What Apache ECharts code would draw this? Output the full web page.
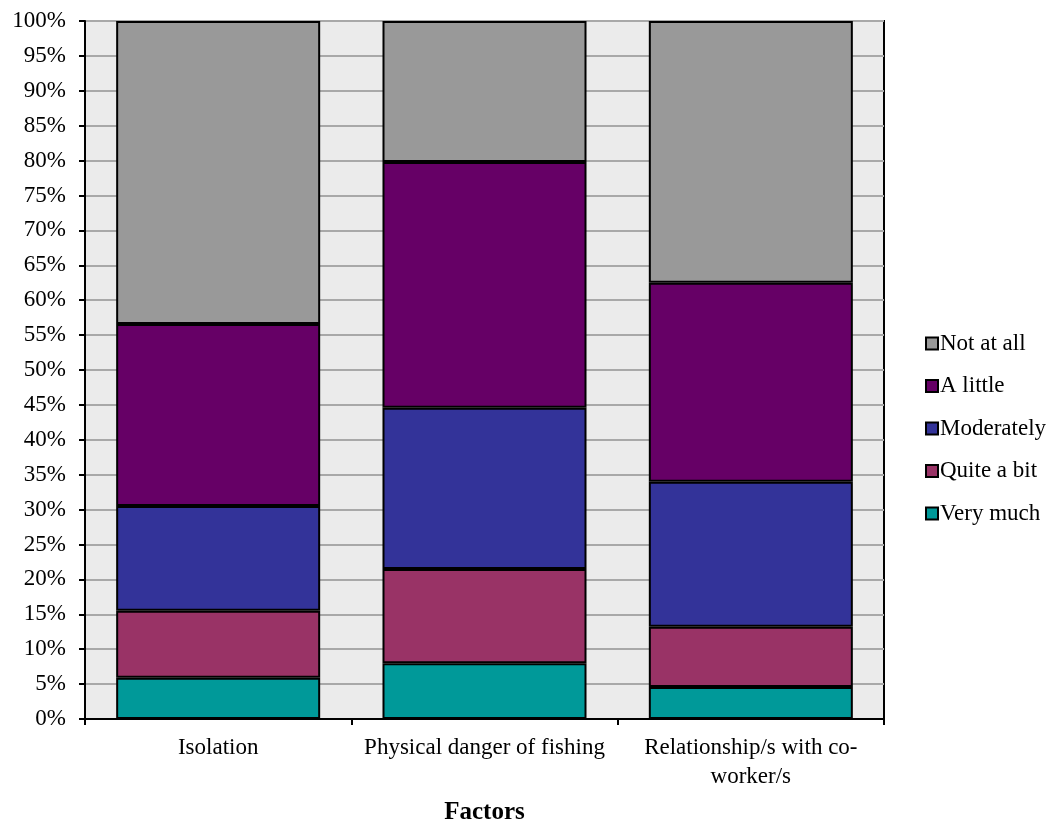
<!DOCTYPE html>
<html>
<head>
<meta charset="utf-8">
<script src="https://cdn.jsdelivr.net/npm/echarts@6/dist/echarts.min.js"></script>
<style>html,body{margin:0;padding:0;background:#fff}#c{width:1056px;height:823px}</style>
</head>
<body>
<div id="c"></div>
<script>
const categories = ['Isolation', 'Physical danger of fishing', 'Relationship/s with co-worker/s'];
const seriesNames = ['Very much', 'Quite a bit', 'Moderately', 'A little', 'Not at all'];
const veryMuch = [5.9, 8.0, 4.6];
const quiteABit = [9.6, 13.5, 8.6];
const moderately = [15.0, 23.1, 20.8];
const aLittle = [26.1, 35.2, 28.5];
const notAtAll = [43.4, 20.2, 37.5];
const colors = ['#009999', '#993366', '#333399', '#660066', '#999999'];
const values = [veryMuch, quiteABit, moderately, aLittle, notAtAll];

const font = '"Liberation Serif", "Times New Roman", serif';
const chart = echarts.init(document.getElementById('c'));
chart.setOption({
  animation: false,
  textStyle: { fontFamily: font },
  grid: {
    left: 85, top: 21, right: 172, bottom: 104,
    outerBoundsMode: 'none', containLabel: false,
    show: true, backgroundColor: '#ebebeb', borderColor: '#000', borderWidth: 2
  },
  legend: {
    orient: 'vertical', left: 920, top: 327,
    data: seriesNames.slice().reverse(),
    icon: 'rect', itemWidth: 12, itemHeight: 12, itemGap: 19.5,
    textStyle: { fontFamily: font, fontSize: 23, color: '#000', padding: [0, 0, 0, -3] }
  },
  xAxis: {
    type: 'category', data: categories,
    name: 'Factors', nameLocation: 'middle', nameGap: 81,
    nameTextStyle: { fontFamily: font, fontSize: 25, fontWeight: 'bold', color: '#000' },
    axisLine: { lineStyle: { color: '#000', width: 2 } },
    axisTick: { show: true, length: 6, lineStyle: { color: '#000', width: 2 } },
    axisLabel: {
      interval: 0, hideOverlap: false,
      fontFamily: font, fontSize: 23, color: '#000', margin: 14, lineHeight: 29,
      formatter: v => v.replace('co-worker/s', 'co-\nworker/s')
    }
  },
  yAxis: {
    type: 'value', min: 0, max: 100, interval: 5,
    axisLine: { show: true, lineStyle: { color: '#000', width: 2 } },
    axisTick: { show: true, length: 6, lineStyle: { color: '#000', width: 2 } },
    axisLabel: { fontFamily: font, fontSize: 23, color: '#000', margin: 19, formatter: '{value}%' },
    splitLine: { lineStyle: { color: '#a8a8a8', width: 2 } }
  },
  series: seriesNames.map((n, i) => ({
    name: n, type: 'bar', stack: 'total', data: values[i],
    barCategoryGap: '23.4%',
    itemStyle: { color: colors[i], borderColor: '#000', borderWidth: 2 }
  }))
});
</script>
</body>
</html>
